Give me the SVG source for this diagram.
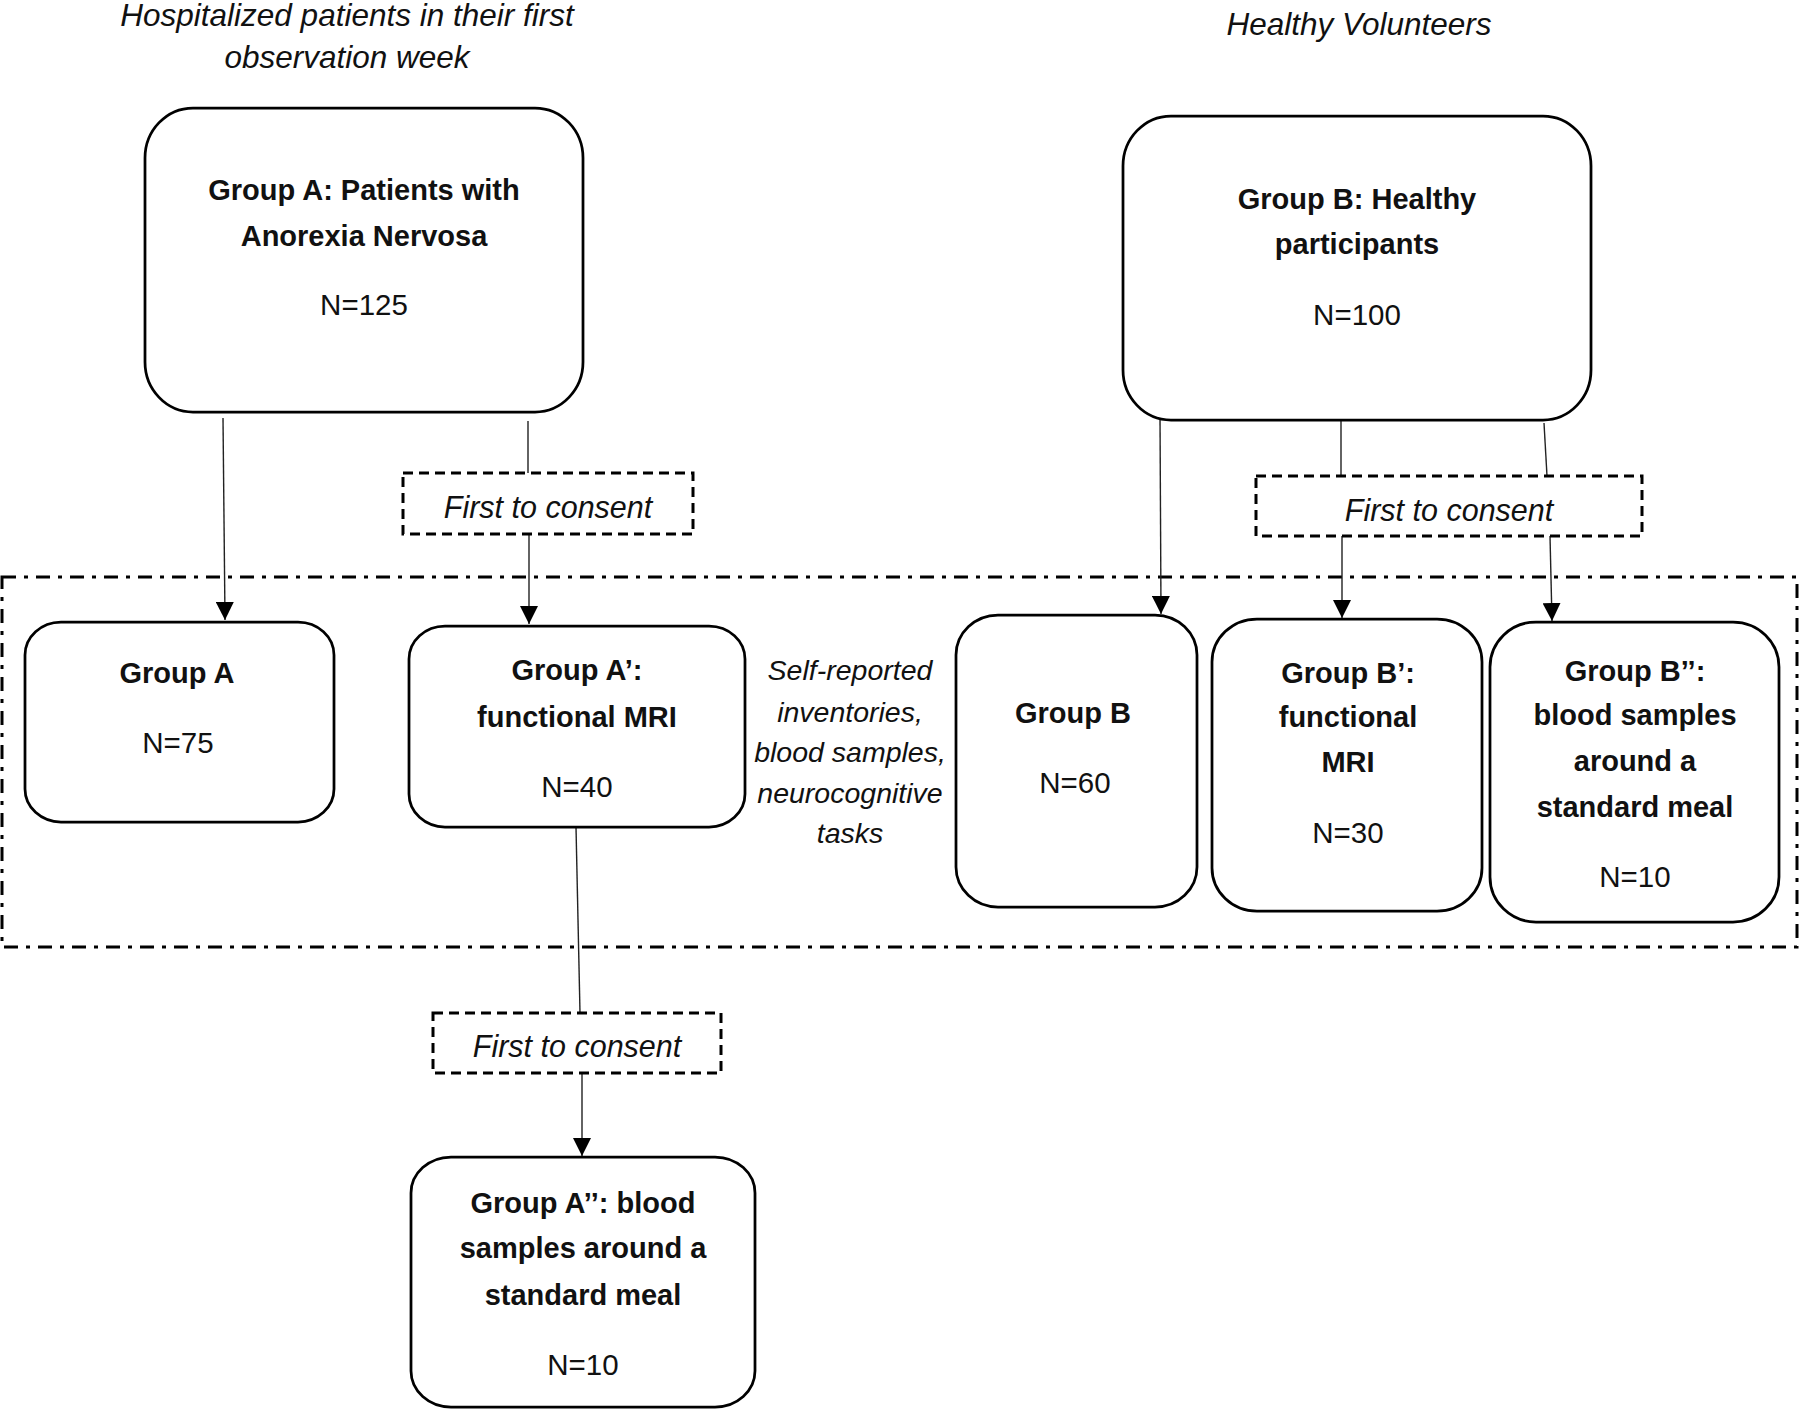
<svg xmlns="http://www.w3.org/2000/svg" width="1800" height="1409" viewBox="0 0 1800 1409">
<style>
.box{fill:#fff;stroke:#000;stroke-width:2.75}
.dash{fill:#fff;stroke:#000;stroke-width:3;stroke-dasharray:10 6}
.container{fill:none;stroke:#000;stroke-width:3;stroke-dasharray:14 8 4 8}
.conn{stroke:#222;stroke-width:1.4;fill:none}
.b{font-family:"Liberation Sans",Arial,sans-serif;font-weight:bold;font-size:29px;fill:#111;text-anchor:middle}
.n{font-family:"Liberation Sans",Arial,sans-serif;font-size:29.5px;fill:#111;text-anchor:middle}
.t{font-family:"Liberation Sans",Arial,sans-serif;font-style:italic;font-size:31.5px;fill:#111;text-anchor:middle}
.c{font-family:"Liberation Sans",Arial,sans-serif;font-style:italic;font-size:30.5px;fill:#111;text-anchor:middle}
.m{font-family:"Liberation Sans",Arial,sans-serif;font-style:italic;font-size:28.5px;fill:#111;text-anchor:middle}
</style>
<defs>
<marker id="arr" viewBox="0 0 18 18" refX="18" refY="9" markerWidth="18" markerHeight="18" orient="auto" markerUnits="userSpaceOnUse">
<path d="M0,0 L18,9 L0,18 z" fill="#000"/>
</marker>
</defs>
<rect width="1800" height="1409" fill="#fff"/>

<g id="titles">
<text class="t" x="347" y="26">Hospitalized patients in their first</text>
<text class="t" x="347" y="68">observation week</text>
<text class="t" x="1359" y="35">Healthy Volunteers</text>
</g>

<rect id="study-frame" class="container" x="2" y="577" width="1795" height="370"/>

<g id="connectors">
<line class="conn" x1="223" y1="418" x2="225" y2="620" marker-end="url(#arr)"/>
<line class="conn" x1="528" y1="421" x2="528" y2="473"/>
<line class="conn" x1="529" y1="534" x2="529" y2="624" marker-end="url(#arr)"/>
<line class="conn" x1="576" y1="827" x2="580" y2="1013"/>
<line class="conn" x1="582" y1="1073" x2="582" y2="1156" marker-end="url(#arr)"/>
<line class="conn" x1="1160" y1="416" x2="1161" y2="614" marker-end="url(#arr)"/>
<line class="conn" x1="1341" y1="421" x2="1341" y2="476"/>
<line class="conn" x1="1342" y1="536" x2="1342" y2="618" marker-end="url(#arr)"/>
<line class="conn" x1="1544" y1="423" x2="1547" y2="476"/>
<line class="conn" x1="1550" y1="536" x2="1552" y2="621" marker-end="url(#arr)"/>
</g>

<g id="groupA-main">
<rect class="box" x="145" y="108" width="438" height="304" rx="48" ry="50"/>
<text class="b" x="364" y="200">Group A: Patients with</text>
<text class="b" x="364" y="246">Anorexia Nervosa</text>
<text class="n" x="364" y="315">N=125</text>
</g>

<g id="groupB-main">
<rect class="box" x="1123" y="116" width="468" height="304" rx="48" ry="50"/>
<text class="b" x="1357" y="209">Group B: Healthy</text>
<text class="b" x="1357" y="254">participants</text>
<text class="n" x="1357" y="325">N=100</text>
</g>

<g id="consent-A">
<rect class="dash" x="403" y="473" width="290" height="61"/>
<text class="c" x="548" y="518">First to consent</text>
</g>

<g id="consent-B">
<rect class="dash" x="1256" y="476" width="386" height="60"/>
<text class="c" x="1449" y="521">First to consent</text>
</g>

<g id="consent-A2">
<rect class="dash" x="433" y="1013" width="288" height="60"/>
<text class="c" x="577" y="1057">First to consent</text>
</g>

<g id="groupA">
<rect class="box" x="25" y="622" width="309" height="200" rx="36" ry="33"/>
<text class="b" x="177" y="683">Group A</text>
<text class="n" x="178" y="753">N=75</text>
</g>

<g id="groupA1">
<rect class="box" x="409" y="626" width="336" height="201" rx="36" ry="33"/>
<text class="b" x="577" y="680">Group A’:</text>
<text class="b" x="577" y="727">functional MRI</text>
<text class="n" x="577" y="797">N=40</text>
</g>

<g id="measures">
<text class="m" x="850" y="680">Self-reported</text>
<text class="m" x="850" y="722">inventories,</text>
<text class="m" x="850" y="762">blood samples,</text>
<text class="m" x="850" y="803">neurocognitive</text>
<text class="m" x="850" y="843">tasks</text>
</g>

<g id="groupB">
<rect class="box" x="956" y="615" width="241" height="292" rx="42" ry="40"/>
<text class="b" x="1073" y="723">Group B</text>
<text class="n" x="1075" y="793">N=60</text>
</g>

<g id="groupB1">
<rect class="box" x="1212" y="619" width="270" height="292" rx="45" ry="43"/>
<text class="b" x="1348" y="683">Group B’:</text>
<text class="b" x="1348" y="727">functional</text>
<text class="b" x="1348" y="772">MRI</text>
<text class="n" x="1348" y="843">N=30</text>
</g>

<g id="groupB2">
<rect class="box" x="1490" y="622" width="289" height="300" rx="46" ry="45"/>
<text class="b" x="1635" y="681">Group B’’:</text>
<text class="b" x="1635" y="725">blood samples</text>
<text class="b" x="1635" y="771">around a</text>
<text class="b" x="1635" y="817">standard meal</text>
<text class="n" x="1635" y="887">N=10</text>
</g>

<g id="groupA2">
<rect class="box" x="411" y="1157" width="344" height="250" rx="40" ry="36"/>
<text class="b" x="583" y="1213">Group A’’: blood</text>
<text class="b" x="583" y="1258">samples around a</text>
<text class="b" x="583" y="1305">standard meal</text>
<text class="n" x="583" y="1375">N=10</text>
</g>
</svg>
